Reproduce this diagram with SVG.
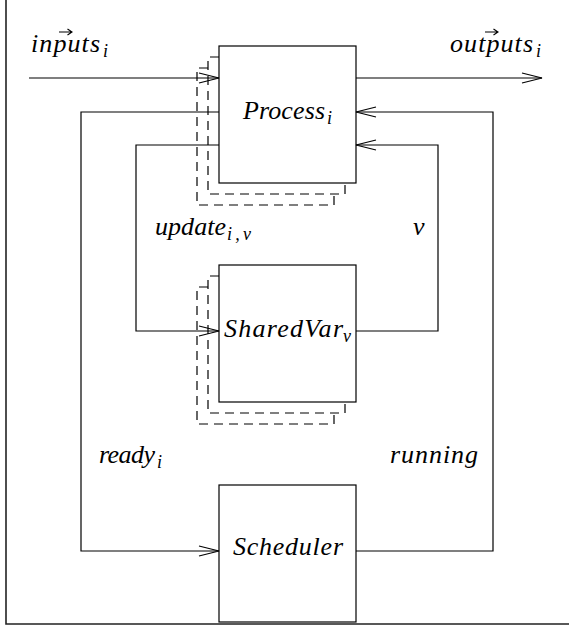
<svg xmlns="http://www.w3.org/2000/svg" width="569" height="637" viewBox="0 0 569 637">
  <style>
    .box { fill: #fff; stroke: #000; stroke-width: 1.2; }
    .shadow { fill: none; stroke: #000; stroke-width: 1.2; stroke-dasharray: 9 6; }
    .wire { fill: none; stroke: #000; stroke-width: 1.2; }
    .frame { fill: none; stroke: #222; stroke-width: 1.6; }
    .lbl { font-family: "Liberation Serif", "DejaVu Serif", serif; font-style: italic; font-size: 26px; fill: #000; }
    .sub { font-family: "Liberation Serif", "DejaVu Serif", serif; font-style: italic; font-size: 18px; fill: #000; }
    .vec { fill: none; stroke: #000; stroke-width: 1.1; }
  </style>
  <defs>
    <marker id="head" viewBox="0 0 22 12" markerWidth="22" markerHeight="12" refX="21" refY="6" orient="auto" markerUnits="userSpaceOnUse">
      <path d="M1,1 L21,6 L1,11" fill="none" stroke="#000" stroke-width="1.2"/>
    </marker>
  </defs>

  <!-- page frame (left and bottom edges) -->
  <path class="frame" d="M6,0 V624 H569"/>

  <!-- Process_i with two stacked instances behind it -->
  <g id="process">
    <path class="shadow" d="M208,68 H197 V205 H334 V194"/>
    <path class="shadow" d="M219,57 H208 V194 H345 V183"/>
    <rect class="box" x="219" y="46" width="137" height="137"/>
    <text class="lbl" x="243" y="119" textLength="82" lengthAdjust="spacing">Process</text>
    <text class="sub" x="327" y="124">i</text>
  </g>

  <!-- SharedVar_v with two stacked instances behind it -->
  <g id="sharedvar">
    <path class="shadow" d="M208,287 H197 V424 H334 V413"/>
    <path class="shadow" d="M219,276 H208 V413 H345 V402"/>
    <rect class="box" x="219" y="265" width="137" height="137"/>
    <text class="lbl" x="224" y="337" textLength="119" lengthAdjust="spacing">SharedVar</text>
    <text class="sub" x="343" y="342">v</text>
  </g>

  <!-- Scheduler -->
  <g id="scheduler">
    <rect class="box" x="219" y="485" width="137" height="137"/>
    <text class="lbl" x="233" y="555" textLength="110" lengthAdjust="spacing">Scheduler</text>
  </g>

  <!-- connectors -->
  <g id="connectors">
    <path class="wire" d="M29,78 H219" marker-end="url(#head)"/>
    <path class="wire" d="M356,78 H542" marker-end="url(#head)"/>
    <path class="wire" d="M219,112 H81 V551 H219" marker-end="url(#head)"/>
    <path class="wire" d="M219,145 H136 V331 H219" marker-end="url(#head)"/>
    <path class="wire" d="M356,331 H438 V145 H356" marker-end="url(#head)"/>
    <path class="wire" d="M356,551 H493 V112 H356" marker-end="url(#head)"/>
  </g>

  <!-- connector labels -->
  <g id="labels">
    <text class="lbl" x="31" y="52" textLength="69" lengthAdjust="spacing">inputs</text>
    <text class="sub" x="103" y="57">i</text>
    <path class="vec" d="M59,32 H72 M67.5,29 L72,32 L67.5,35"/>

    <text class="lbl" x="450" y="52" textLength="83" lengthAdjust="spacing">outputs</text>
    <text class="sub" x="536" y="57">i</text>
    <path class="vec" d="M485,32 H498 M493.5,29 L498,32 L493.5,35"/>

    <text class="lbl" x="155" y="235" textLength="71" lengthAdjust="spacing">update</text>
    <text class="sub" x="227" y="240" textLength="24" lengthAdjust="spacing">i,v</text>

    <text class="lbl" x="413" y="235">v</text>

    <text class="lbl" x="99" y="463" textLength="56" lengthAdjust="spacing">ready</text>
    <text class="sub" x="157" y="468">i</text>

    <text class="lbl" x="390" y="463" textLength="88" lengthAdjust="spacing">running</text>
  </g>
</svg>
